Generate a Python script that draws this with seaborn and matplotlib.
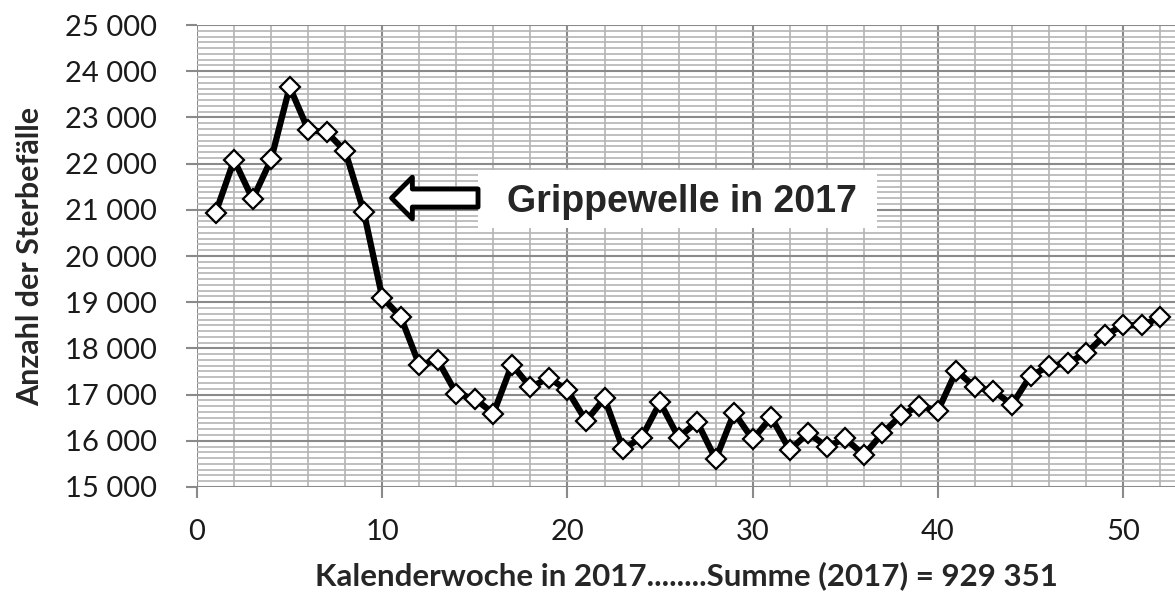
import pandas as pd
import numpy as np
import seaborn as sns
import matplotlib.pyplot as plt
from matplotlib.ticker import MultipleLocator, FuncFormatter
from matplotlib.patches import Rectangle

# weekly deaths Germany 2017
weeks = list(range(1, 53))
deaths = [20930, 22080, 21230, 22090, 23660, 22730, 22680, 22270, 20960,
          19100, 18680, 17640, 17740, 17020, 16910, 16590, 17650, 17160,
          17360, 17090, 16430, 16920, 15820, 16070, 16830, 16070, 16410,
          15600, 16610, 16030, 16510, 15800, 16170, 15870, 16050, 15690,
          16160, 16550, 16760, 16650, 17520, 17160, 17080, 16780, 17410,
          17610, 17690, 17890, 18280, 18500, 18500, 18670]

y_ticks = list(range(15000, 25001, 1000))
x_ticks = [0, 10, 20, 30, 40, 50]

df = pd.DataFrame({"Kalenderwoche": weeks, "Sterbefaelle": deaths})

sns.set_style("white")
plt.rcParams['font.family'] = ['Lato', 'DejaVu Sans']

fig = plt.figure(figsize=(11.75, 6.03), dpi=100)
ax = fig.add_axes([0.1677, 0.1924, 0.8323, 0.7661])

sns.lineplot(data=df, x="Kalenderwoche", y="Sterbefaelle", ax=ax,
             color="black", linewidth=4.5, marker="D", markersize=10.5,
             markerfacecolor="white", markeredgecolor="black",
             markeredgewidth=1.6, zorder=5)

ax.set_xlim(0, 52.8)
ax.set_ylim(15000, 25000)
ax.set_xticks(x_ticks)
ax.set_yticks(y_ticks)
ax.xaxis.set_minor_locator(MultipleLocator(2))
ax.yaxis.set_minor_locator(MultipleLocator(125))
ax.yaxis.set_major_formatter(FuncFormatter(lambda v, p: f"{int(v):,}".replace(",", " ")))

ax.grid(which="major", color="#8a8a8a", linewidth=1.5)
ax.grid(which="minor", color="#b4b4b4", linewidth=1.2)
ax.set_axisbelow(True)
for s in ax.spines.values():
    s.set_visible(False)

ax.tick_params(axis="both", which="major", length=8, width=1.5, color="#8a8a8a",
               labelsize=21, labelcolor="#1a1a1a", direction="out")
ax.tick_params(axis="y", pad=21)
ax.tick_params(axis="x", pad=15, bottom=True)
ax.tick_params(axis="y", left=True)
ax.tick_params(which="minor", length=0)

ax.set_ylabel("Anzahl der Sterbefälle", fontsize=22, fontweight="bold", labelpad=15)
ax.set_xlabel("Kalenderwoche in 2017........Summe (2017) = 929 351",
              fontsize=22.5, fontweight="bold", labelpad=12)

# annotation: white box + hollow arrow
ax.add_patch(Rectangle((0.2873, 0.5606), 0.408, 0.1255, transform=ax.transAxes,
                       facecolor="white", edgecolor="none", zorder=3))
ax.text(16.74, 20950, "Grippewelle in 2017", fontsize=27, fontweight="bold",
        family=["Liberation Sans", "DejaVu Sans"], ha="left", va="baseline", zorder=4)
ax.annotate("", xy=(10.5, 21255), xytext=(15.17, 21255),
            arrowprops=dict(arrowstyle="simple,head_length=15,head_width=30,tail_width=13",
                            mutation_scale=1, fc="white", ec="black", lw=3.5,
                            shrinkA=0, shrinkB=0), zorder=4)

plt.savefig("out.png", dpi=100)
